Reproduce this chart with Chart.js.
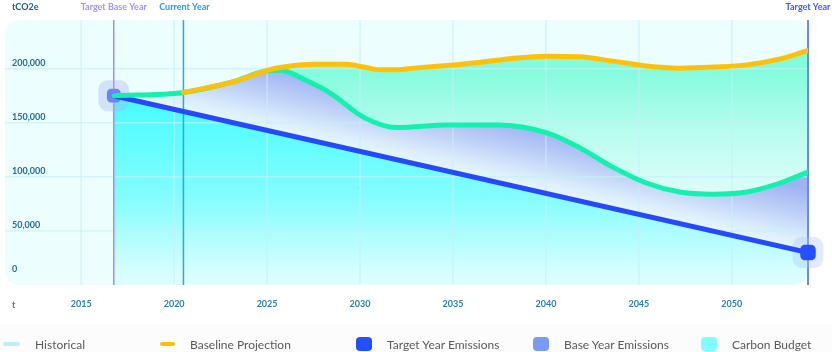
<!DOCTYPE html>
<html><head><meta charset="utf-8">
<script src="https://cdn.jsdelivr.net/npm/chart.js@4.4.1/dist/chart.umd.min.js"></script>
<style>
html,body{margin:0;padding:0;background:#fff;width:832px;height:352px;overflow:hidden;font-family:Lato,"Noto Sans",sans-serif}
#wrap{position:relative;width:832px;height:352px}
#band{position:absolute;left:0;top:324px;width:832px;height:28px;background:#fcfcfc}
canvas{position:absolute;left:0;top:0}
.lg{position:absolute;top:336px;height:16px;display:flex;align-items:center;font-size:12px;color:#5a5a5a;white-space:nowrap}
.lg .ic{flex:none;margin-right:15px}
</style></head>
<body><div id="wrap"><div id="band"></div><canvas id="c" width="832" height="352"></canvas><div id="legend"></div></div>
<script>
// ---- data ----
const baseYear = 2016.75, currentYear = 2020.5, targetYear = 2054.1;
const xMin = 2010.9;
const yMax = 245000;
const xTickValues = [2015, 2020, 2025, 2030, 2035, 2040, 2045, 2050];
const yTickValues = [0, 50000, 100000, 150000, 200000];
const baselineYears  = [2020.5, 2023.2, 2025.0, 2025.7, 2027.5, 2029.3, 2030.2, 2031.1, 2032.0, 2032.9, 2034.7, 2036.5, 2038.2, 2040.1, 2041.8, 2043.6, 2045.4, 2047.2, 2049.0, 2050.8, 2052.6, 2054.1];
const baselineValues = [178000, 188000, 198500, 201000, 204000, 204000, 201500, 199000, 199000, 200500, 203000, 206000, 209500, 211500, 211000, 207000, 202500, 200500, 201500, 203500, 209000, 217000];
const pathwayYears  = [2016.75, 2020.5, 2023.2, 2025.0, 2025.7, 2027.0, 2028.4, 2030.2, 2032.0, 2034.7, 2037.4, 2040.1, 2041.8, 2043.6, 2045.4, 2047.2, 2049.0, 2050.8, 2052.6, 2054.1];
const pathwayValues = [175000, 178000, 188000, 198000, 198500, 190000, 177500, 155000, 145500, 148000, 148000, 140500, 127000, 109000, 94300, 86000, 84000, 86000, 94300, 104500];
const targetLineYears  = [baseYear, targetYear];
const targetLineValues = [175000, 30000];
const baseYearEmissions = 175000;
const targetYearEmissions = 30000;
const markerLabels = ['Target Base Year', 'Current Year', 'Target Year'];
const legendLabels = ['Historical', 'Baseline Projection', 'Target Year Emissions', 'Base Year Emissions', 'Carbon Budget'];
const legendColors = ['#c0eaf8', '#ffc107', '#2350ff', '#7b9af5', '#80fdff'];

// ---- helpers ----
const pts = (xs, ys) => xs.map((x, i) => ({x: x, y: ys[i]}));
function vgrad(rgb, stops) {
  return (c) => {
    const ch = c.chart, a = ch.chartArea;
    if (!a) return 'rgba(0,0,0,0)';
    const g = ch.ctx.createLinearGradient(0, a.top, 0, a.bottom);
    stops.forEach(s => g.addColorStop(s[0], 'rgba(' + rgb + ',' + s[1] + ')'));
    return g;
  };
}
// gradient perpendicular to the target pathway, fading towards it
function bandGrad(rgb, stops, depth) {
  return (c) => {
    const ch = c.chart, a = ch.chartArea, sx = ch.scales.x, sy = ch.scales.y;
    if (!a || !sx || !sy) return 'rgba(0,0,0,0)';
    const x0 = sx.getPixelForValue(targetLineYears[0]), y0 = sy.getPixelForValue(targetLineValues[0]);
    const x1 = sx.getPixelForValue(targetLineYears[1]), y1 = sy.getPixelForValue(targetLineValues[1]);
    const mx = (x0 + x1) / 2, my = (y0 + y1) / 2;
    let nx = (y1 - y0), ny = -(x1 - x0);
    const len = Math.hypot(nx, ny); nx /= len; ny /= len;
    const g = ch.ctx.createLinearGradient(mx + nx * depth, my + ny * depth, mx, my);
    stops.forEach(s => g.addColorStop(s[0], 'rgba(' + rgb + ',' + s[1] + ')'));
    return g;
  };
}
function rr(ctx, x, y, w, h, r) {
  ctx.beginPath();
  ctx.moveTo(x + r, y);
  ctx.lineTo(x + w - r, y); ctx.arcTo(x + w, y, x + w, y + r, r);
  ctx.lineTo(x + w, y + h - r); ctx.arcTo(x + w, y + h, x + w - r, y + h, r);
  ctx.lineTo(x + r, y + h); ctx.arcTo(x, y + h, x, y + h - r, r);
  ctx.lineTo(x, y + r); ctx.arcTo(x, y, x + r, y, r);
  ctx.closePath();
}

const deco = {
  id: 'deco',
  beforeDraw(chart) {
    const {ctx, chartArea: a} = chart;
    ctx.save();
    rr(ctx, a.left, a.top, a.right - a.left, a.bottom - a.top, 14);
    ctx.fillStyle = '#edfefe';
    ctx.fill();
    ctx.clip();
  },
  beforeDatasetsDraw(chart) {
    const {ctx, chartArea: a, scales: {x, y}} = chart;
    ctx.lineWidth = 1.5;
    ctx.strokeStyle = 'rgba(196,240,248,0.65)';
    x.ticks.forEach(t => {
      const p = x.getPixelForValue(t.value);
      ctx.beginPath(); ctx.moveTo(p, a.top); ctx.lineTo(p, a.bottom); ctx.stroke();
    });
    y.ticks.forEach(t => {
      if (t.value === 0) return;
      const p = y.getPixelForValue(t.value);
      ctx.beginPath(); ctx.moveTo(a.left, p); ctx.lineTo(a.right, p); ctx.stroke();
    });
    ctx.restore();
    const marks = [[baseYear, '#a08ef6', 1.5], [currentYear, '#2ea6ee', 1.5], [targetYear, '#6b88f7', 2]];
    ctx.save();
    marks.forEach(m => {
      const p = x.getPixelForValue(m[0]);
      ctx.strokeStyle = m[1]; ctx.lineWidth = m[2];
      ctx.beginPath(); ctx.moveTo(p, a.top); ctx.lineTo(p, a.bottom); ctx.stroke();
    });
    ctx.restore();
  },
  afterDraw(chart) {
    const {ctx, chartArea: a, scales: {x, y}} = chart;
    ctx.save();
    ctx.font = 'bold 9px Lato';
    ctx.textBaseline = 'middle';
    ctx.textAlign = 'left';
    // y-axis tick labels (from the y scale's ticks), drawn inside the plot
    ctx.fillStyle = '#1f6e95';
    y.ticks.forEach(t => {
      const p = Math.min(y.getPixelForValue(t.value) - 6, a.bottom - 16);
      ctx.fillText(t.value.toLocaleString('en-US'), a.left + 7, p);
    });
    ctx.fillStyle = '#1d5f7d';
    ctx.fillText('tCO2e', 12, 7);
    ctx.fillStyle = '#2b7fb0';
    ctx.fillText('t', 12, 305);
    ctx.textAlign = 'center';
    const cols = ['#a395f5', '#2a9bea', '#3a5df0'];
    [baseYear, currentYear, targetYear].forEach((v, i) => {
      ctx.fillStyle = cols[i];
      ctx.fillText(markerLabels[i], x.getPixelForValue(v) + (i === 1 ? 1 : 0), 7);
    });
    ctx.restore();
  }
};

const tickFont = {family: 'Lato', size: 9, weight: 'bold'};

new Chart(document.getElementById('c'), {
  type: 'line',
  data: {
    datasets: [
      {label: 'Target Year Emissions', data: [{x: targetYear, y: targetYearEmissions}], showLine: false,
       pointStyle: 'rectRounded', pointRadius: 9, backgroundColor: '#2450ff', borderColor: '#2450ff', borderWidth: 0, clip: false},
      {label: 'Baseline Projection', data: pts(baselineYears, baselineValues), borderColor: '#ffc107', borderWidth: 5,
       cubicInterpolationMode: 'monotone', pointRadius: 0, borderCapStyle: 'round', fill: 2,
       backgroundColor: vgrad('100,250,212', [[0, 0.85], [0.2, 0.75], [0.45, 0.35], [0.7, 0.05], [1, 0]])},
      {label: 'Reduction Pathway', data: pts(pathwayYears, pathwayValues), borderColor: '#12f2ae', borderWidth: 5,
       cubicInterpolationMode: 'monotone', pointRadius: 0, borderCapStyle: 'round', fill: 3,
       backgroundColor: bandGrad('128,150,238', [[0, 0.72], [0.45, 0.42], [0.8, 0.16], [1, 0.06]], 62)},
      {label: 'Target Pathway', data: pts(targetLineYears, targetLineValues), borderColor: '#2449ff', borderWidth: 5,
       tension: 0, pointRadius: 0, borderCapStyle: 'round', fill: 'origin',
       backgroundColor: vgrad('70,252,255', [[0, 1], [0.34, 0.95], [0.68, 0.62], [0.94, 0.15], [1, 0.08]])},
      {label: 'Base Year Emissions', data: [{x: baseYear, y: baseYearEmissions}], showLine: false,
       pointStyle: 'rectRounded', pointRadius: 8, backgroundColor: '#6b86f4', borderWidth: 0, clip: false},
      {label: 'glow-end', data: [{x: targetYear, y: targetYearEmissions}], showLine: false,
       pointStyle: 'rectRounded', pointRadius: 18, backgroundColor: 'rgba(175,195,245,0.35)', borderWidth: 0, clip: false},
      {label: 'glow-base', data: [{x: baseYear, y: baseYearEmissions}], showLine: false,
       pointStyle: 'rectRounded', pointRadius: 18, backgroundColor: 'rgba(160,175,240,0.35)', borderWidth: 0, clip: false}
    ]
  },
  options: {
    responsive: false, animation: false, devicePixelRatio: 1, events: [],
    layout: {autoPadding: false, padding: {left: 5, right: 24, top: 20, bottom: 45}},
    plugins: {legend: {display: false}, tooltip: {enabled: false}, filler: {drawTime: 'beforeDatasetsDraw'}},
    scales: {
      x: {type: 'linear', min: xMin, max: targetYear,
          afterBuildTicks: s => { s.ticks = xTickValues.map(v => ({value: v})); },
          afterFit: s => { s.height = 22; },
          grid: {display: false, drawTicks: false}, border: {display: false},
          ticks: {padding: 14, color: '#2b7fb0', font: tickFont,
                  maxRotation: 0, minRotation: 0, autoSkip: false, z: 1, callback: v => String(v)}},
      y: {display: false, min: 0, max: yMax,
          afterBuildTicks: s => { s.ticks = yTickValues.map(v => ({value: v})); }}
    }
  },
  plugins: [deco]
});

// ---- HTML legend ----
const legendLeft = [3, 160, 356, 533, 701];
const legendIcon = [
  {w: 17, h: 4, r: 2}, {w: 15, h: 4, r: 2}, {w: 16, h: 14, r: 4}, {w: 16, h: 14, r: 4}, {w: 16, h: 14, r: 4}
];
const lg = document.getElementById('legend');
legendLabels.forEach((name, i) => {
  const d = document.createElement('div');
  d.className = 'lg';
  d.style.left = legendLeft[i] + 'px';
  const ic = document.createElement('span');
  ic.className = 'ic';
  ic.style.width = legendIcon[i].w + 'px';
  ic.style.height = legendIcon[i].h + 'px';
  ic.style.borderRadius = legendIcon[i].r + 'px';
  ic.style.background = legendColors[i];
  const t = document.createElement('span');
  t.textContent = name;
  d.appendChild(ic); d.appendChild(t);
  lg.appendChild(d);
});
</script>
</body></html>
